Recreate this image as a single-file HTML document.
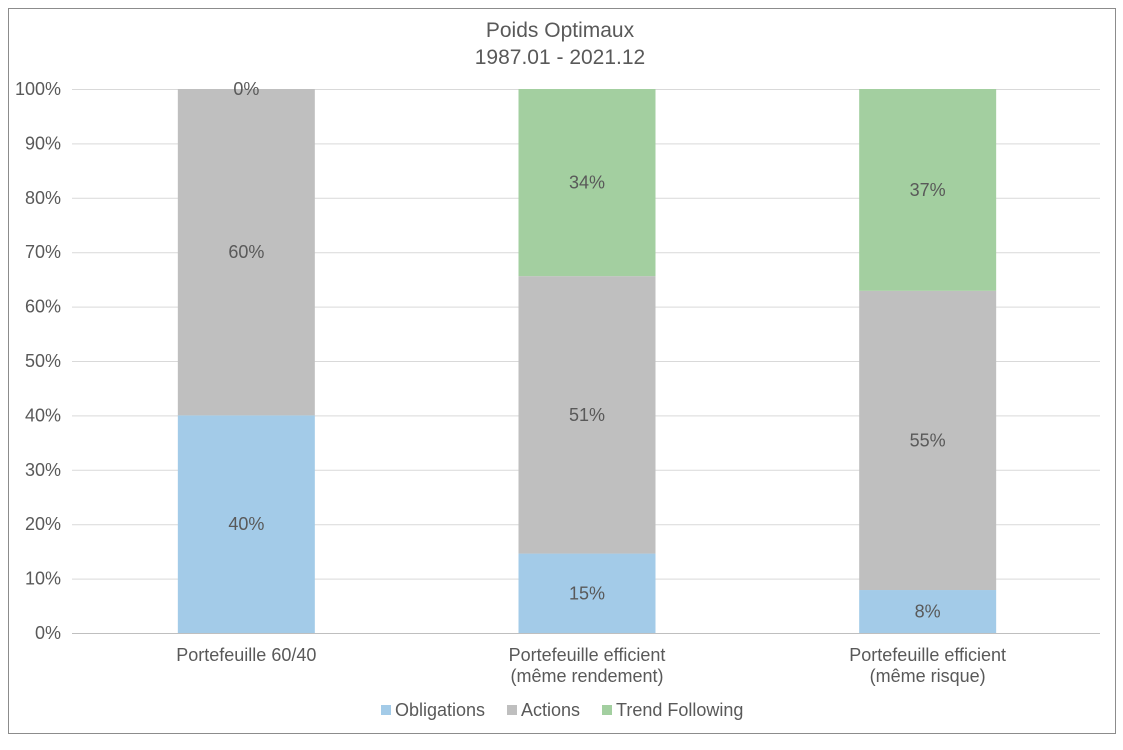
<!DOCTYPE html>
<html><head><meta charset="utf-8"><style>
body{margin:0;background:#fff;width:1123px;height:745px;overflow:hidden}
svg text{font-family:"Liberation Sans",sans-serif}
</style></head><body>
<svg id="c" width="1123" height="745">
<rect x="8.5" y="8.5" width="1107" height="725" fill="#fff" stroke="#8c8c8c"/>
<text x="560" y="37" text-anchor="middle" font-size="21" fill="#595959">Poids Optimaux</text>
<text x="560" y="64" text-anchor="middle" font-size="21" fill="#595959">1987.01 - 2021.12</text>
<g id="grid"></g><g id="bars"></g><g id="labels"></g>
<g>
<rect x="381" y="705" width="10" height="10" fill="#a3cbe8"/>
<text x="395" y="716" font-size="18" fill="#595959">Obligations</text>
<rect x="507" y="705" width="10" height="10" fill="#bfbfbf"/>
<text x="521" y="716" font-size="18" fill="#595959">Actions</text>
<rect x="602" y="705" width="10" height="10" fill="#a3cfa0"/>
<text x="616" y="716" font-size="18" fill="#595959">Trend Following</text>
</g>
</svg>
<script>
const categories=[["Portefeuille 60/40"],["Portefeuille efficient","(même rendement)"],["Portefeuille efficient","(même risque)"]];
const obligations=[40,14.6,7.9];
const actions=[60,51.0,55.0];
const trend=[0,34.4,37.1];
const yTicks=[0,10,20,30,40,50,60,70,80,90,100];
const NS="http://www.w3.org/2000/svg";
const L=76,R=1098,T=89,B=633;
const y=v=>B-(B-T)*v/100;
const band=(R-L)/categories.length;
const xc=i=>L+band*(i+0.5);
const bw=137;
function mk(tag,attrs,parent){const e=document.createElementNS(NS,tag);for(const k in attrs)e.setAttribute(k,attrs[k]);parent.appendChild(e);return e;}
const g=document.getElementById('grid'),gb=document.getElementById('bars'),gl=document.getElementById('labels');
yTicks.forEach(t=>{
 const ln=mk('line',{x1:72,x2:R+2,y1:y(t)+0.5,y2:y(t)+0.5,stroke:t===0?'#bfbfbf':'#d9d9d9'},g);
 
 
 const tx=mk('text',{x:61,y:y(t)+6,'text-anchor':'end','font-size':18,fill:'#595959'},g);
 tx.textContent=t+'%';
 
 
});
const series=[[obligations,'#a3cbe8','obligations'],[actions,'#bfbfbf','actions'],[trend,'#a3cfa0','trend']];
categories.forEach((c,i)=>{
 let base=0;
 series.forEach(([arr,col,nm])=>{
  const v=arr[i];
  const r=mk('rect',{x:xc(i)-bw/2,y:y(base+v),width:bw,height:y(base)-y(base+v),fill:col},gb);
  
  
  const t=mk('text',{x:xc(i),y:y(base+v/2)+6,'text-anchor':'middle','font-size':18,fill:'#595959'},gl);
  t.textContent=Math.round(v)+'%';
  
  
  base+=v;
 });
 c.forEach((line,j)=>{
  const t=mk('text',{x:xc(i),y:661+j*21,'text-anchor':'middle','font-size':18,fill:'#595959'},gl);
  t.textContent=line;
  
  
 });
});
</script>
</body></html>
